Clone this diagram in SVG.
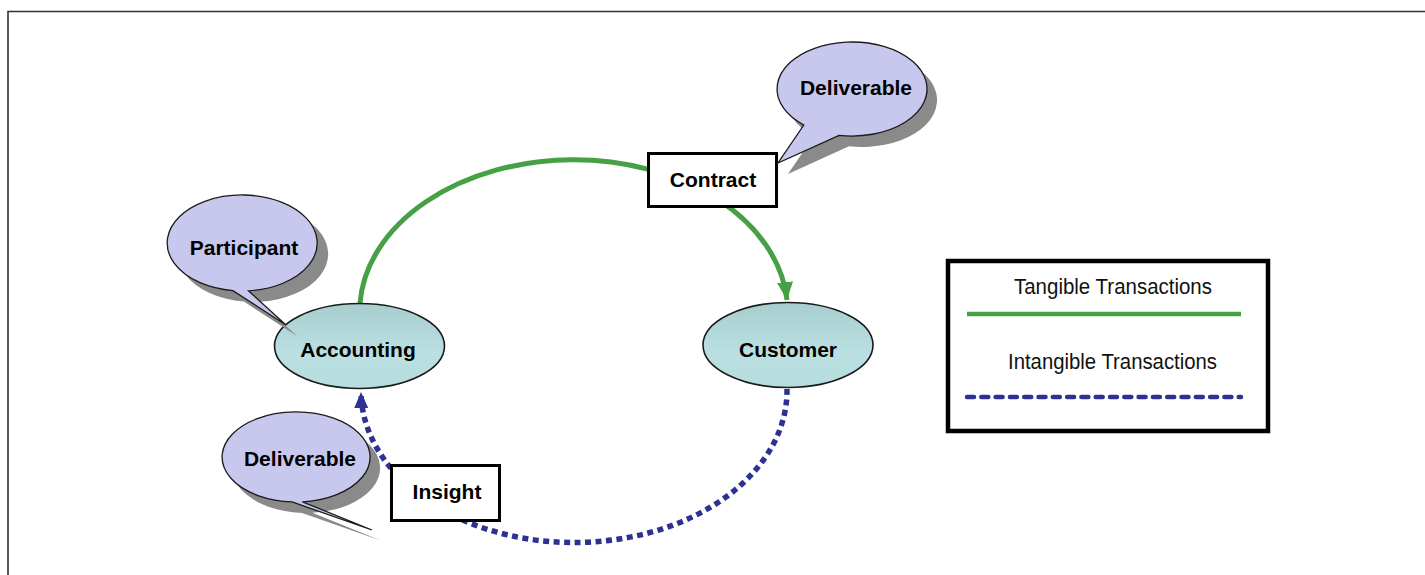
<svg xmlns="http://www.w3.org/2000/svg" width="1425" height="575" viewBox="0 0 1425 575">
<style>
.node{fill:url(#tealGrad);stroke:#1a1a1a;stroke-width:1.6}
.bubble{fill:#C8C8EE;stroke:#1a1a1a;stroke-width:1.3}
.shadow{fill:#8a8a8a}
.box{fill:#fff;stroke:#000;stroke-width:3}
.lbl{font-family:"Liberation Sans",Arial,sans-serif;font-weight:bold;font-size:21px;fill:#000;text-anchor:middle}
.leg{font-family:"Liberation Sans Narrow","Liberation Sans",Arial,sans-serif;font-size:22.5px;fill:#111;text-anchor:middle}
.tang{fill:none;stroke:#46A046;stroke-width:5}
.intang{fill:none;stroke:#2E3192;stroke-width:5.5;stroke-dasharray:6 4.5}
</style>
<defs>
<linearGradient id="tealGrad" x1="0" y1="0" x2="0" y2="1">
<stop offset="0" stop-color="#A7CDCE"/>
<stop offset="0.6" stop-color="#BBE0E1"/>
<stop offset="1" stop-color="#B6DCDD"/>
</linearGradient>
<marker id="arrG" markerUnits="userSpaceOnUse" markerWidth="20" markerHeight="20" viewBox="0 0 20 20" refX="18" refY="10" orient="auto">
<path d="M0,2 L18,10 L0,18 Z" fill="#46A046"/>
</marker>
<marker id="arrB" markerUnits="userSpaceOnUse" markerWidth="18" markerHeight="18" viewBox="0 0 18 18" refX="16" refY="9" orient="auto">
<path d="M0,2 L16,9 L0,16 Z" fill="#2E3192"/>
</marker>
</defs>
<rect x="0" y="0" width="1425" height="575" fill="#fff"/>
<path d="M8,575 V11.5 H1425" fill="none" stroke="#333" stroke-width="1.6"/>

<g id="connectors">
<path class="tang" d="M360,303 A214,152 0 0 1 787,300" marker-end="url(#arrG)"/>
<path class="intang" d="M787,389 A213,152 0 0 1 361,392" marker-end="url(#arrB)"/>
</g>

<g id="accounting">
<ellipse class="node" cx="359.5" cy="346" rx="85" ry="42.5"/>
<text class="lbl" x="358" y="357">Accounting</text>
</g>
<g id="customer">
<ellipse class="node" cx="788" cy="345" rx="85" ry="42.5"/>
<text class="lbl" x="788" y="357">Customer</text>
</g>

<g id="contract">
<rect class="box" x="648.5" y="153.5" width="128" height="53"/>
<text class="lbl" x="713" y="187">Contract</text>
</g>
<g id="insight">
<rect class="box" x="391.5" y="465.5" width="108" height="55"/>
<text class="lbl" x="447" y="499">Insight</text>
</g>

<g id="participant-callout">
<path class="shadow" transform="translate(11,11)" d="M248.5,290.8 A75,48 0 1 0 232.9,290.6 L286,325 Z"/>
<path class="bubble" d="M248.5,290.8 A75,48 0 1 0 232.9,290.6 L286,325 Z"/>
<text class="lbl" x="244" y="255">Participant</text>
</g>

<g id="deliverable-callout-top">
<path class="shadow" transform="translate(10,11)" d="M839,135.3 A75,47 0 1 0 803.8,125 L778,163 Z"/>
<path class="bubble" d="M839,135.3 A75,47 0 1 0 803.8,125 L778,163 Z"/>
<text class="lbl" x="856" y="95">Deliverable</text>
</g>

<g id="deliverable-callout-bottom">
<path class="shadow" transform="translate(10,11)" d="M302.4,501.8 A74,45 0 1 0 292.1,501.9 L372,530 Z"/>
<path class="bubble" d="M302.4,501.8 A74,45 0 1 0 292.1,501.9 L372,530 Z"/>
<text class="lbl" x="300" y="466">Deliverable</text>
</g>

<g id="legend">
<rect x="948" y="261" width="320" height="170" fill="#fff" stroke="#000" stroke-width="4.5"/>
<text class="leg" x="1113" y="294" textLength="198" lengthAdjust="spacingAndGlyphs">Tangible Transactions</text>
<line x1="967" y1="314" x2="1241" y2="314" stroke="#46A046" stroke-width="4.5"/>
<text class="leg" x="1112.5" y="369" textLength="209" lengthAdjust="spacingAndGlyphs">Intangible Transactions</text>
<line x1="967" y1="397" x2="1241" y2="397" stroke="#2E3192" stroke-width="4.5" stroke-dasharray="7 7.3" stroke-linecap="round"/>
</g>
</svg>
